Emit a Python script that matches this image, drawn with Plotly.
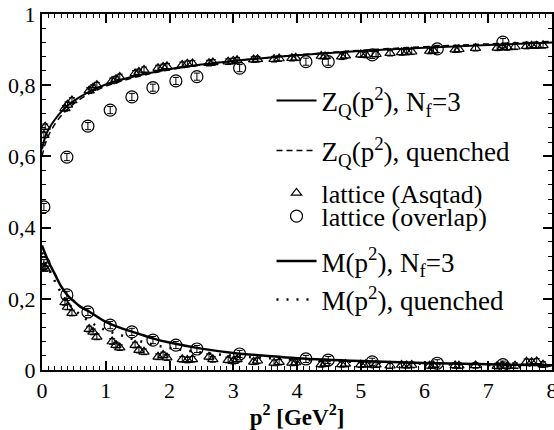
import plotly.graph_objects as go

# ---- curves ----
zq_nf3_x = [0, 0.05, 0.1, 0.2, 0.3, 0.4, 0.5, 0.7, 1.0, 1.5, 2, 2.5, 3, 4, 5, 6, 7, 8]
zq_nf3_y = [0.62, 0.655, 0.675, 0.703, 0.725, 0.742, 0.756, 0.778, 0.802, 0.827, 0.845, 0.858, 0.868, 0.884, 0.896, 0.905, 0.913, 0.92]
zq_qu_x = [0, 0.05, 0.1, 0.2, 0.3, 0.4, 0.5, 0.7, 1.0, 1.5, 2, 2.5, 3, 4, 5, 6, 7, 8]
zq_qu_y = [0.60, 0.635, 0.658, 0.69, 0.714, 0.732, 0.748, 0.772, 0.797, 0.824, 0.843, 0.857, 0.868, 0.885, 0.898, 0.908, 0.916, 0.923]
m_nf3_x = [0, 0.1, 0.2, 0.3, 0.4, 0.5, 0.6, 0.75, 1.0, 1.25, 1.5, 1.75, 2, 2.5, 3, 3.5, 4, 5, 6, 7, 8]
m_nf3_y = [0.35, 0.305, 0.27, 0.235, 0.21, 0.193, 0.178, 0.163, 0.135, 0.117, 0.103, 0.088, 0.077, 0.06, 0.048, 0.04, 0.033, 0.025, 0.02, 0.016, 0.013]
m_qu_x = [0, 0.2, 0.4, 0.6, 0.8, 1.0, 1.25, 1.5, 1.75, 2, 2.5, 3, 3.5, 4, 5, 6, 7, 8]
m_qu_y = [0.33, 0.25, 0.19, 0.155, 0.13, 0.112, 0.097, 0.083, 0.071, 0.062, 0.049, 0.04, 0.034, 0.029, 0.022, 0.017, 0.014, 0.012]

# ---- lattice Asqtad (triangles) ----
asq_x = [0.03, 0.05, 0.36, 0.40, 0.47, 0.74, 0.80, 0.86, 1.10, 1.16, 1.22, 1.46, 1.52, 1.60,
         1.82, 1.90, 1.96, 2.20, 2.28, 2.36, 2.62, 2.68, 2.92, 3.00, 3.06, 3.32, 3.38, 3.64,
         3.72, 3.92, 3.98, 4.38, 4.44, 4.70, 4.76, 5.00, 5.08, 5.24, 5.46, 5.64, 5.72, 5.80,
         6.08, 6.14, 6.48, 6.54, 6.80, 7.14, 7.22, 7.30, 7.42, 7.60, 7.68, 7.76, 7.86]
asq_z = [0.66, 0.683, 0.735, 0.745, 0.757, 0.785, 0.793, 0.80, 0.812, 0.817, 0.823, 0.833, 0.837, 0.843,
         0.848, 0.851, 0.853, 0.857, 0.86, 0.861, 0.862, 0.864, 0.866, 0.868, 0.87, 0.872, 0.873, 0.873,
         0.875, 0.876, 0.877, 0.882, 0.881, 0.88, 0.883, 0.886, 0.885, 0.887, 0.89, 0.892, 0.893, 0.894,
         0.896, 0.897, 0.90, 0.901, 0.904, 0.905, 0.907, 0.906, 0.908, 0.91, 0.911, 0.911, 0.912]
asq_m = [0.29, 0.285, 0.19, 0.177, 0.16, 0.115, 0.107, 0.093, 0.08, 0.07, 0.063, 0.07, 0.056, 0.051,
         0.037, 0.042, 0.035, 0.03, 0.028, 0.03, 0.037, 0.03, 0.028, 0.025, 0.03, 0.023, 0.026, 0.02,
         0.022, 0.02, 0.021, 0.016, 0.018, 0.016, 0.017, 0.015, 0.016, 0.015, 0.012, 0.014, 0.013, 0.014,
         0.012, 0.013, 0.013, 0.012, 0.013, 0.011, 0.012, 0.011, 0.012, 0.023, 0.022, 0.024, 0.015]

# ---- lattice overlap (circles) ----
ovl_x = [0.03, 0.39, 0.72, 1.07, 1.41, 1.74, 2.10, 2.43, 3.10, 4.14, 4.49, 5.18, 6.20, 7.23]
ovl_z = [0.458, 0.598, 0.685, 0.73, 0.767, 0.793, 0.812, 0.824, 0.848, 0.866, 0.866, 0.885, 0.902, 0.921]
ovl_m = [0.30, 0.211, 0.163, 0.126, 0.107, 0.084, 0.07, 0.059, 0.045, 0.031, 0.028, 0.023, 0.019, 0.015]

x_ticks = [0, 1, 2, 3, 4, 5, 6, 7, 8]
x_labels = ["0", "1", "2", "3", "4", "5", "6", "7", "8"]
y_ticks = [0, 0.2, 0.4, 0.6, 0.8, 1]
y_labels = ["0", "0,2", "0,4", "0,6", "0,8", "1"]

FONT = "Liberation Serif"
fig = go.Figure()

fig.add_trace(go.Scatter(x=zq_nf3_x, y=zq_nf3_y, mode="lines", line=dict(color="black", width=2, shape="spline"),
                         name="Z<sub>Q</sub>(p<sup>2</sup>), N<sub>f</sub>=3", legend="legend"))
fig.add_trace(go.Scatter(x=zq_qu_x, y=zq_qu_y, mode="lines", line=dict(color="black", width=1.5, dash="6px,4px", shape="spline"),
                         name="Z<sub>Q</sub>(p<sup>2</sup>), quenched", legend="legend2"))
err_asq = [0.008] * len(asq_x)
fig.add_trace(go.Scatter(x=asq_x, y=asq_z, mode="markers",
                         marker=dict(symbol="triangle-up-open", size=9, color="black", line=dict(width=1.2)),
                         error_y=dict(type="data", array=err_asq, color="black", thickness=1, width=3),
                         name="lattice (Asqtad)", legend="legend3"))
fig.add_trace(go.Scatter(x=asq_x, y=asq_m, mode="markers",
                         marker=dict(symbol="triangle-up-open", size=9, color="black", line=dict(width=1.2)),
                         error_y=dict(type="data", array=err_asq, color="black", thickness=1, width=3),
                         showlegend=False))
err_ovl = [0.01] * len(ovl_x)
fig.add_trace(go.Scatter(x=ovl_x, y=ovl_z, mode="markers",
                         marker=dict(symbol="circle-open", size=12, color="black", line=dict(width=1.2)),
                         error_y=dict(type="data", array=err_ovl, color="black", thickness=1, width=3),
                         name="lattice (overlap)", legend="legend4"))
fig.add_trace(go.Scatter(x=ovl_x, y=ovl_m, mode="markers",
                         marker=dict(symbol="circle-open", size=12, color="black", line=dict(width=1.2)),
                         error_y=dict(type="data", array=err_ovl, color="black", thickness=1, width=3),
                         showlegend=False))
fig.add_trace(go.Scatter(x=m_nf3_x, y=m_nf3_y, mode="lines", line=dict(color="black", width=2.5, shape="spline"),
                         name="M(p<sup>2</sup>), N<sub>f</sub>=3", legend="legend5"))
fig.add_trace(go.Scatter(x=m_qu_x, y=m_qu_y, mode="lines", line=dict(color="black", width=2.5, dash="2px,8px", shape="spline"),
                         name="M(p<sup>2</sup>), quenched", legend="legend6"))

def leg(y, size=27):
    return dict(x=0.45, y=y, xanchor="left", yanchor="middle", bgcolor="rgba(0,0,0,0)",
                font=dict(family=FONT, size=size, color="black"), itemwidth=40,
                borderwidth=0)

fig.update_layout(
    width=554, height=430,
    margin=dict(l=42, r=2, t=14, b=60, autoexpand=False),
    paper_bgcolor="white", plot_bgcolor="white",
    font=dict(family=FONT, color="black"),
    legend=leg(0.756), legend2=leg(0.615), legend3=leg(0.497, 26),
    legend4=leg(0.432, 26), legend5=leg(0.305), legend6=leg(0.197),
)
fig.update_xaxes(range=[0, 8], tickvals=x_ticks, ticktext=x_labels, automargin=False,
                 ticklabeloverflow="allow",
                 ticks="inside", ticklen=9, tickwidth=1.5, tickcolor="black",
                 minor=dict(dtick=0.1, ticks="inside", ticklen=4, tickwidth=1, tickcolor="black"),
                 showline=True, linecolor="black", linewidth=2, mirror="allticks",
                 showgrid=False, zeroline=False,
                 tickfont=dict(family=FONT, size=22, color="black"),
                 title=dict(text="<b>p<sup>2</sup> [GeV<sup>2</sup>]</b>", font=dict(family=FONT, size=23, color="black"), standoff=4))
fig.update_yaxes(range=[0, 1], tickvals=y_ticks, ticktext=y_labels, automargin=False,
                 ticklabeloverflow="allow",
                 ticks="inside", ticklen=9, tickwidth=1.5, tickcolor="black",
                 minor=dict(dtick=0.04, ticks="inside", ticklen=4, tickwidth=1, tickcolor="black"),
                 showline=True, linecolor="black", linewidth=2, mirror="allticks",
                 showgrid=False, zeroline=False,
                 tickfont=dict(family=FONT, size=22, color="black"))

fig.write_html("out.html", config={"displayModeBar": False},
               post_script="document.body.style.margin='0';document.body.style.overflow='hidden';")
